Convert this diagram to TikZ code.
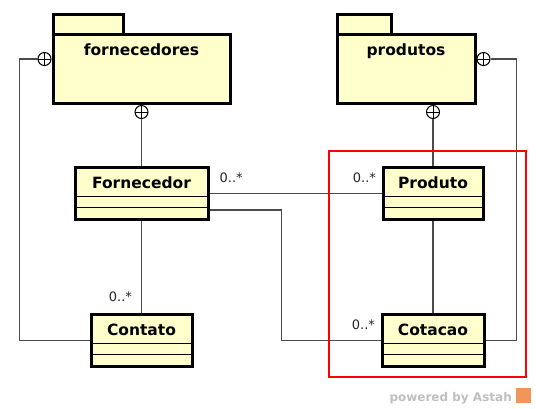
\documentclass[tikz,border=0pt]{standalone}
\usepackage{fontspec}
\setmainfont{DejaVu Sans}
\usetikzlibrary{positioning}
\definecolor{umlfill}{RGB}{255,255,204}
\definecolor{astah}{RGB}{240,150,90}
\tikzstyle{package} = [draw, fill=umlfill, rectangle, line width=3pt, minimum height=69pt, inner sep=0pt, text height=21pt, text depth=48pt, font=\fontsize{15.5}{18}\selectfont\bfseries]
\tikzstyle{tab} = [draw, fill=umlfill, rectangle, line width=3pt, minimum height=20pt, inner sep=0pt, outer sep=0pt, anchor=south west]
\tikzstyle{classbox} = [draw, fill=umlfill, rectangle, line width=3pt, minimum height=52pt, inner sep=0pt, text height=20.5pt, text depth=31.5pt, font=\fontsize{15.5}{18}\selectfont\bfseries,
  path picture={\draw[line width=1pt] ([yshift=-28.5pt]path picture bounding box.north west) -- ([yshift=-28.5pt]path picture bounding box.north east);
                \draw[line width=1pt] ([yshift=-39.5pt]path picture bounding box.north west) -- ([yshift=-39.5pt]path picture bounding box.north east);}]
\tikzstyle{nest} = [draw, fill=white, circle, line width=1pt, minimum size=13pt, inner sep=0pt,
  path picture={\draw (path picture bounding box.north) -- (path picture bounding box.south);
                \draw (path picture bounding box.west) -- (path picture bounding box.east);}]
\tikzstyle{assoc} = [draw=black!70, line width=1.2pt]
\tikzstyle{mult} = [inner sep=2pt, text=black!85, font=\fontsize{13}{15}\selectfont]

\begin{document}
\begin{tikzpicture}[x=1pt,y=1pt]
		\useasboundingbox (0,0) rectangle (536,-408);
		\node (pforn) [package, minimum width=177pt] at (141.5,-69) {fornecedores};
		\node (pprod) [package, minimum width=138pt, right=104pt of pforn] {produtos};
		\node (tforn) [tab, minimum width=70pt] at ([xshift=1.5pt,yshift=-1.5pt]pforn.north west) {};
		\node (tprod) [tab, minimum width=54pt] at ([xshift=1.5pt,yshift=-1.5pt]pprod.north west) {};
		\node (forn) [classbox, minimum width=133pt, below=61pt of pforn] {Fornecedor};
		\node (cont) [classbox, minimum width=101pt, below=92pt of forn] {Contato};
		\node (prod) [classbox, minimum width=100pt, right=172pt of forn] {Produto};
		\node (cot) [classbox, minimum width=102pt, below=92pt of prod] {Cotacao};
		\node (nf1) [nest, anchor=north] at (pforn.south) {};
		\node (nf2) [nest, anchor=east] at ([yshift=10pt]pforn.west) {};
		\node (np1) [nest, anchor=north] at (pprod.south -| prod.north) {};
		\node (np2) [nest, anchor=west] at ([yshift=10pt]pprod.east) {};
		
		\draw [assoc] (nf1) -- (forn);
		\draw [assoc] (nf2) -- ++(-25,0) |- (cont);
		\draw [assoc] (np1) -- (prod);
		\draw [assoc] (np2) -- ++(33,0) |- (cot);
		
		\draw [assoc] (forn) -- node[mult, pos=0, above right=8.5pt and 7.5pt] {0..*} node[mult, pos=1, above left=8.5pt and 3pt] {0..*} (prod);
		\draw [assoc] (forn) -- node[mult, pos=1, above left=9pt and 7pt] {0..*} (cont);
		\draw [assoc] ([yshift=-16.5pt]forn.east) -- ++(72,0) |- node[mult, pos=1, above left=8.5pt and 3pt] {0..*} (cot);
		\draw [assoc] (prod) -- (cot);
		
		\draw [red, line width=2pt] (329,-151) rectangle (526,-377);
		
		\node (wm) [anchor=base east, inner sep=0pt, text=black!25, font=\fontsize{12}{14}\selectfont\bfseries] at (512,-401.5) {powered by Astah};
		\fill [astah] (515.5,-388) rectangle (530.5,-403);
	\end{tikzpicture}
\end{document}
